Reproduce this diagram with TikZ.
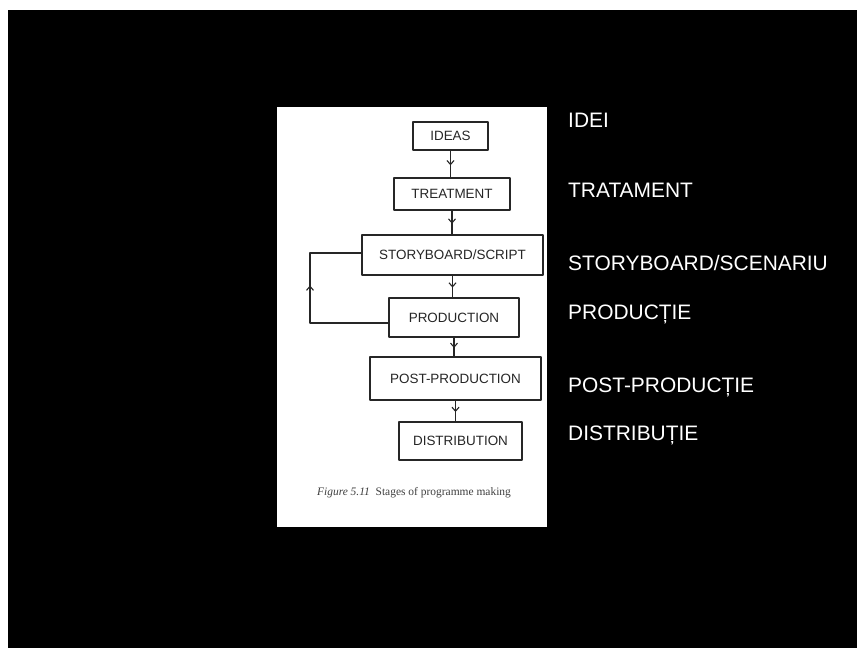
\documentclass[tikz,border=0pt]{standalone}
\usepackage{fontspec}
\setmainfont{Liberation Sans}
\newfontfamily\captionfont{Liberation Serif}
\usetikzlibrary{decorations.markings,arrows.meta}
\tikzset{
  stagebox/.style={draw=black!85,line width=1.3bp,fill=white,inner sep=0pt,
    text=black!85,font=\fontsize{13.5}{16}\selectfont},
  midarrow/.style={draw=black!85,line width=1.1bp,postaction={decorate},
    decoration={markings,mark=at position #1 with {\arrow{Straight Barb[length=4bp,width=7bp]}}}},
  midarrow/.default=0.55,
  rolabel/.style={anchor=base west,inner sep=0pt,text=white,
    font=\fontsize{21}{25}\selectfont},
}
\begin{document}
\begin{tikzpicture}[>=latex,line join=bevel,]
\useasboundingbox (0bp,0bp) rectangle (857bp,648bp);
%% background and scanned page
\fill [black] (8bp,0bp) rectangle (857bp,638bp);
\fill [white] (277bp,121bp) rectangle (547bp,541bp);
%%
\node (node_ideas) at (450.5bp,512bp) [stagebox,minimum width=75bp,minimum height=28bp] {IDEAS};
  \node (node_treatment) at (452bp,454bp) [stagebox,minimum width=116bp,minimum height=32bp] {TREATMENT};
  \node (node_story) at (452.5bp,393bp) [stagebox,minimum width=181bp,minimum height=40bp] {STORYBOARD/SCRIPT};
  \node (node_production) at (454bp,330.5bp) [stagebox,minimum width=130bp,minimum height=39bp] {PRODUCTION};
  \node (node_post) at (455.5bp,269.5bp) [stagebox,minimum width=171bp,minimum height=43bp] {POST-PRODUCTION};
  \node (node_distribution) at (460.5bp,207bp) [stagebox,minimum width=123bp,minimum height=38bp] {DISTRIBUTION};
  \coordinate (loop_x) at (310bp,325bp);
  \draw [midarrow] (node_ideas.south) -- (node_ideas.south |- node_treatment.north);
  \draw [midarrow] (node_treatment.south) -- (node_treatment.south |- node_story.north);
  \draw [midarrow] (node_story.south) -- (node_story.south |- node_production.north);
  \draw [midarrow] (node_production.south) -- (node_production.south |- node_post.north);
  \draw [midarrow] (node_post.south) -- (node_post.south |- node_distribution.north);
  \draw [midarrow=0.58] (node_production.west |- loop_x) -- (loop_x) |- ([yshift=2bp]node_story.west);
%
\node (node_caption) at (414bp,155bp) [inner sep=0pt,text=black!75,font=\captionfont\fontsize{11.5}{13}\selectfont] {\textit{Figure 5.11}\enspace Stages of programme making};
%% Romanian labels
\node (node_idei) at (568bp,520.5bp) [rolabel] {IDEI};
  \node (node_tratament) at (568bp,450.5bp) [rolabel] {TRATAMENT};
  \node (node_scenariu) at (568bp,377.5bp) [rolabel] {STORYBOARD/SCENARIU};
  \node (node_productie) at (568bp,328.5bp) [rolabel] {PRODUCȚIE};
  \node (node_postproductie) at (568bp,255.5bp) [rolabel] {POST-PRODUCȚIE};
  \node (node_distributie) at (568bp,207.5bp) [rolabel] {DISTRIBUȚIE};
%
\end{tikzpicture}
\end{document}
